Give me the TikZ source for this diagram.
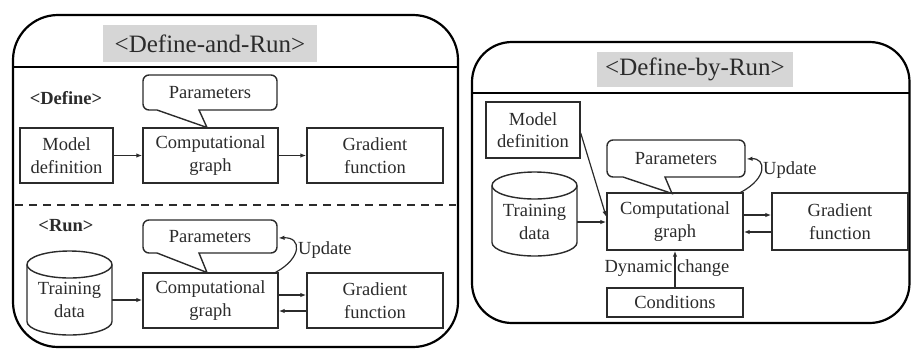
\documentclass[tikz,border=0pt]{standalone}
\usepackage{fontspec}
\setmainfont{Liberation Serif}
\usetikzlibrary{arrows.meta,calc}
\definecolor{ink}{HTML}{2B2B2B}
\definecolor{titlegray}{HTML}{D6D6D6}
\tikzset{
  panel/.style={draw=black,line width=2.2pt,rounded corners=42pt},
  hdr/.style={draw=black,line width=2pt},
  titlebox/.style={fill=titlegray,inner sep=0pt,font=\fontsize{25}{28}\selectfont,text=ink},
  box/.style={draw=ink,line width=1.4pt,inner sep=0pt,align=center,
    font=\fontsize{18.5}{22.5}\selectfont,text=ink},
  lbl/.style={inner sep=0pt,font=\fontsize{18.5}{22.5}\selectfont,text=ink,align=center},
  bubble/.style={draw=ink,line width=1.4pt,fill=white},
  arr/.style={draw=ink,line width=1.2pt,-{Latex[length=6pt,width=4.5pt]}},
}
\begin{document}
\begin{tikzpicture}[x=1pt,y=-1pt]
\useasboundingbox (0,0) rectangle (911,349);

% ================= Left panel =================
\draw[panel,rounded corners=45pt] (13,15) rectangle (458,347);
\draw[hdr] (13,67) -- (458,67);
\node[titlebox,minimum width=214pt,minimum height=37pt] (t1) at (210,43.5) {<Define-and-Run>};

\node[lbl,font=\fontsize{18.5}{22.5}\selectfont\bfseries] (def) at (66,98) {<Define>};

% Parameters callout (define)
\draw[bubble] (199,110) [rounded corners=6pt] -- (277,110) -- (277,75) -- (143,75) -- (143,110) [sharp corners] -- (157,110) -- (207,127.5) -- cycle;
\node[lbl] (p1) at (210,92.5) {Parameters};

\node[box,minimum width=93pt,minimum height=55pt] (md1) at (66.5,155.5) {Model\\definition};
\node[box,minimum width=135pt,minimum height=55pt] (c1) at (210.5,155.5) {Computational\\graph};
\node[box,minimum width=136pt,minimum height=55pt] (g1) at (375,155.5) {Gradient\\function};
\draw[arr] (md1) -- (c1);
\draw[arr] (c1) -- (g1);

\draw[ink,line width=1.5pt,dash pattern=on 8pt off 6pt] (15,205) -- (456,205);

\node[lbl,font=\fontsize{18.5}{22.5}\selectfont\bfseries] (run) at (66,226) {<Run>};

% Parameters callout (run)
\draw[bubble] (199,253) [rounded corners=6pt] -- (277,253) -- (277,220) -- (143,220) -- (143,253) [sharp corners] -- (157,253) -- (207,272.5) -- cycle;
\node[lbl] (p2) at (210,236.5) {Parameters};
\coordinate (p2r) at (278.5,238);
\node[lbl,anchor=west] (u1) at (298,250) {Update};

% Training data cylinder (run)
\draw[ink,line width=1.4pt] (27,264.5) -- (27,321.5) arc[start angle=180,end angle=360,x radius=42.5pt,y radius=13.5pt] -- (112,264.5);
\draw[ink,line width=1.4pt] (69.5,264.5) ellipse[x radius=42.5pt,y radius=13.5pt];
\node[lbl,minimum width=85pt] (td1) at (69.5,300) {Training\\data};

\node[box,minimum width=135pt,minimum height=55pt] (c2) at (210.5,300.5) {Computational\\graph};
\node[box,minimum width=136pt,minimum height=55pt] (g2) at (375,300.5) {Gradient\\function};

\draw[arr] (td1.east) -- (td1.east -| c2.west);
\draw[arr] ($(c2.east)+(0,-5.5)$) -- ($(g2.west)+(0,-5.5)$);
\draw[arr] ($(g2.west)+(0,10.5)$) -- ($(c2.east)+(0,10.5)$);
\coordinate (ua1) at ($(c2.north east)+(-3,0)$);
\draw[arr] (ua1) .. controls (302,258) and (302,237) .. (p2r);

% ================= Right panel =================
\draw[panel,rounded corners=40pt] (472,42) rectangle (909.5,323);
\draw[hdr] (472,93) -- (909.5,93);
\node[titlebox,minimum width=196pt,minimum height=35pt] (t2) at (695,69.5) {<Define-by-Run>};

\node[box,minimum width=94pt,minimum height=56pt] (md2) at (533,130) {Model\\definition};

% Parameters callout (right)
\draw[bubble] (665,177) [rounded corners=6pt] -- (745,177) -- (745,140) -- (607,140) -- (607,177) [sharp corners] -- (623,177) -- (672,193.5) -- cycle;
\node[lbl] (p3) at (676,158.5) {Parameters};
\coordinate (p3r) at (746.5,159);
\node[lbl,anchor=west] (u2) at (763,170) {Update};

% Training data cylinder (right)
\draw[ink,line width=1.4pt] (492,185.5) -- (492,242.5) arc[start angle=180,end angle=360,x radius=42.5pt,y radius=13.5pt] -- (577,185.5);
\draw[ink,line width=1.4pt] (534.5,185.5) ellipse[x radius=42.5pt,y radius=13.5pt];
\node[lbl,minimum width=85pt] (td2) at (534.5,222) {Training\\data};

\node[box,minimum width=136pt,minimum height=57pt] (c3) at (675,221.5) {Computational\\graph};
\node[box,minimum width=136pt,minimum height=57pt] (g3) at (840,221.5) {Gradient\\function};
\node[box,minimum width=136pt,minimum height=29pt] (cd) at (675,302.5) {Conditions};
\node[lbl] (dc) at (667,268) {Dynamic change};

\draw[arr] (td2.east) -- (td2.east -| c3.west);
\draw[arr] ($(md2.east)+(0,3)$) -- ($(c3.west)+(0,-4.5)$);
\draw[arr] ($(c3.east)+(0,-6.5)$) -- ($(g3.west)+(0,-6.5)$);
\draw[arr] ($(g3.west)+(0,10.5)$) -- ($(c3.east)+(0,10.5)$);
\draw[arr] (cd.north) -- (c3.south);
\coordinate (ua2) at ($(c3.north east)+(-3,0)$);
\draw[arr] (ua2) .. controls (768,178) and (766,158) .. (p3r);
\end{tikzpicture}
\end{document}
